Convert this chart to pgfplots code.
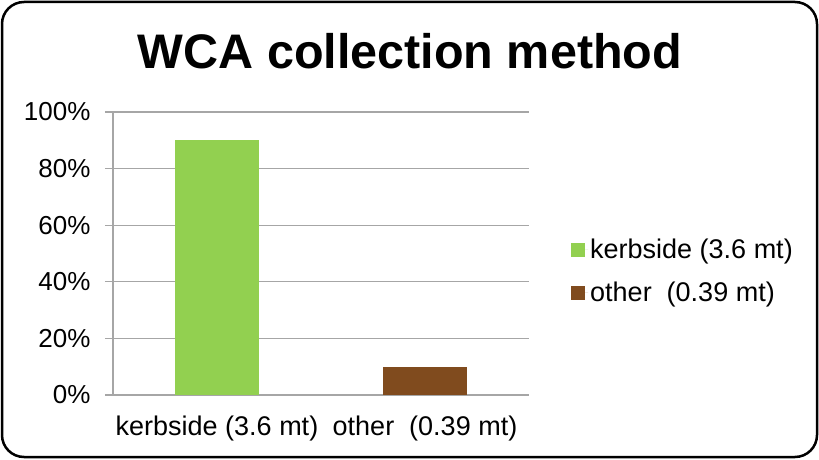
\documentclass[border=0pt]{standalone}
\usepackage{pgfplots}
\pgfplotsset{compat=1.18}
\usepackage{fontspec}
\setmainfont{Liberation Sans}
\definecolor{kgreen}{HTML}{92D050}
\definecolor{obrown}{HTML}{804B1E}
\definecolor{gridgray}{HTML}{A6A6A6}
\begin{document}
\begin{tikzpicture}[x=1pt,y=1pt]
\path[use as bounding box] (0,0) rectangle (819,459);
\draw[line width=2.5pt, rounded corners=22pt] (2,2) rectangle (817,457);
\node[font=\fontsize{48.5}{56}\selectfont\bfseries, anchor=base] at (410,390) {WCA collection method};
\begin{axis}[
  at={(113pt,64pt)}, anchor=south west,
  scale only axis, width=416pt, height=283pt,
  xmin=-0.5, xmax=1.5, ymin=0, ymax=100,
  ytick={0,20,40,60,80,100},
  yticklabel={\pgfmathprintnumber{\tick}\%},
  /pgf/number format/assume math mode=true,
  ymajorgrids, grid style={gridgray, line width=1.3pt},
  axis x line*=bottom, axis y line*=left,
  axis line style={gridgray, line width=1.3pt},
  tick align=outside, major tick length=8pt,
  tick style={gridgray, line width=1.3pt},
  yticklabel style={font=\fontsize{26}{30}\selectfont, text=black, xshift=-11pt},
  xticklabel style={font=\fontsize{27}{31}\selectfont, text=black, yshift=-9pt},
  xtick={0,1},
  xticklabels={kerbside (3.6 mt), other\ \ (0.39 mt)},
  x tick style={draw=none},
  extra x ticks={-0.5,0.5,1.5},
  extra x tick labels={},
  extra x tick style={tick style={gridgray, line width=1.3pt}, major tick length=8pt, grid=none},
  legend style={at={(1.101,0.438)}, anchor=west, draw=none, fill=none,
    font=\fontsize{27}{31}\selectfont, row sep=18pt, inner sep=0pt},
  legend cell align=left,
]
\addplot[ybar, bar width=84pt, bar shift=0pt, fill=kgreen, draw=none,
  legend image code/.code={\fill[kgreen] (0pt,-7pt) rectangle (14pt,7pt); \path (0pt,0pt) -- (17pt,0pt);}]
  coordinates {(0,90)};
\addlegendentry{kerbside (3.6 mt)}
\addplot[ybar, bar width=84pt, bar shift=0pt, fill=obrown, draw=none,
  legend image code/.code={\fill[obrown] (0pt,-7pt) rectangle (14pt,7pt); \path (0pt,0pt) -- (17pt,0pt);}]
  coordinates {(1,10)};
\addlegendentry{other\ \ (0.39 mt)}
\end{axis}
\end{tikzpicture}
\end{document}
